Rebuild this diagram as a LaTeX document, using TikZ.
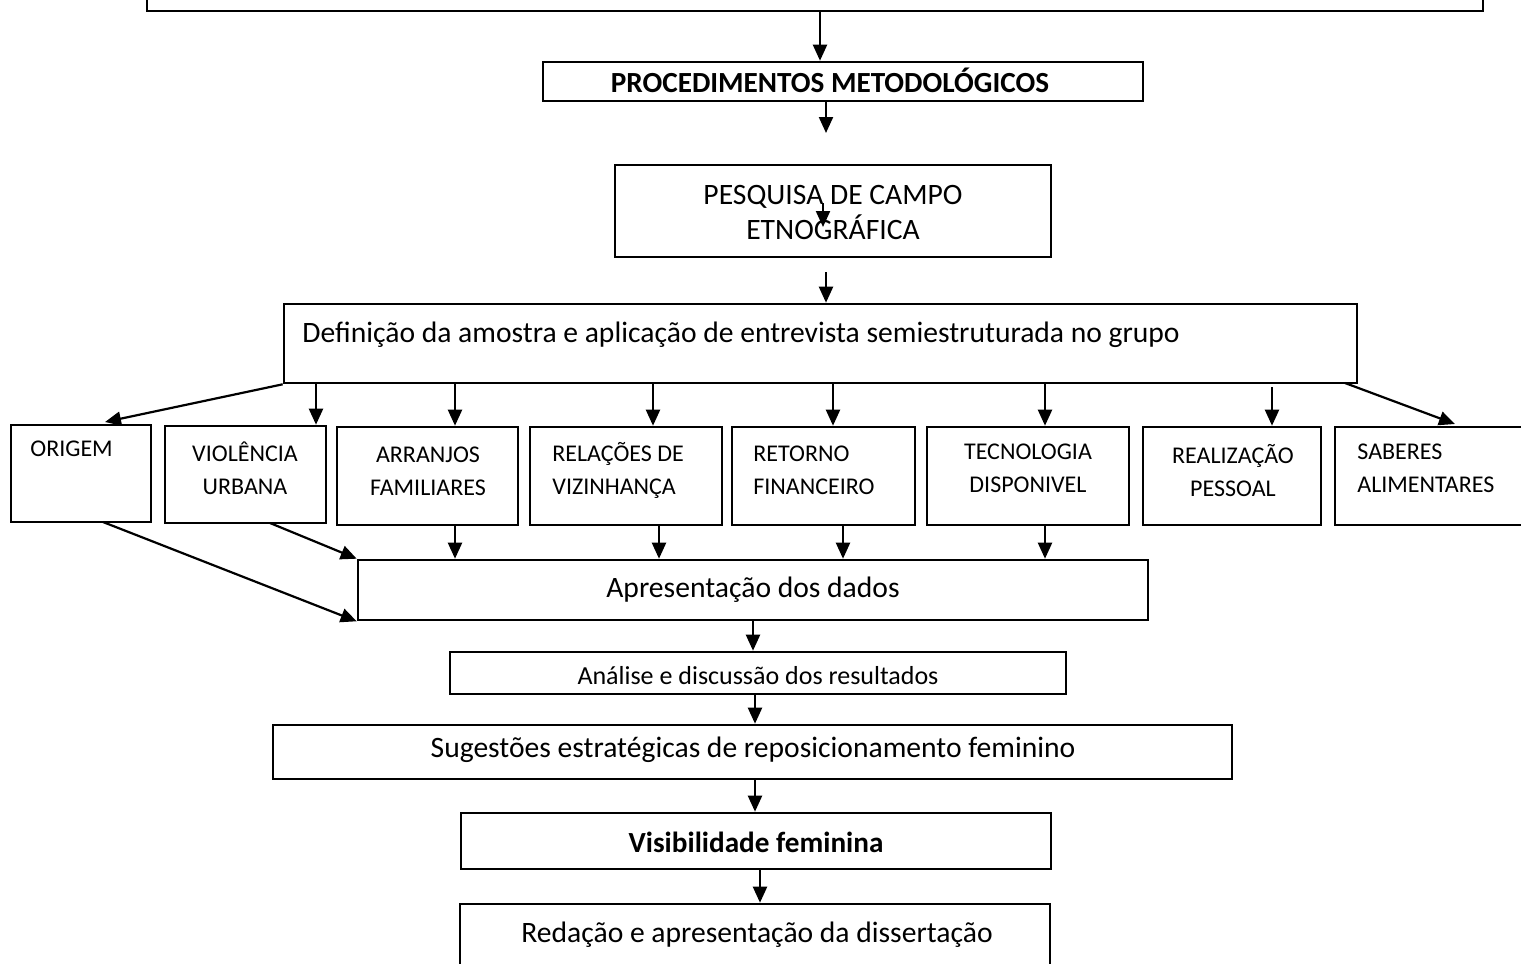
\documentclass[tikz,border=0pt]{standalone}
\usepackage{fontspec}
\setmainfont{Carlito}
\usetikzlibrary{arrows.meta,fit}
\begin{document}
\begin{tikzpicture}[x=0.5pt,y=-0.5pt,
  box/.style={draw, line width=1.3pt, inner sep=0pt},
  arr/.style={-{Triangle[length=8pt,width=7pt]}, line width=1.1pt},
  big/.style={font=\fontsize{14.8}{17.5}\selectfont, inner sep=0pt, align=center},
  bigb/.style={font=\bfseries\fontsize{14.6}{17.5}\selectfont, inner sep=0pt},
  mid/.style={font=\fontsize{13}{14}\selectfont, inner sep=0pt},
  lab/.style={font=\fontsize{12}{16.5}\selectfont, inner sep=0pt, align=center},
  labl/.style={font=\fontsize{12}{16.5}\selectfont, inner sep=0pt, align=left, anchor=west}]
\useasboundingbox (0,0) rectangle (1521,964);
\clip (0,0) rectangle (1521,964);

% boxes
\node[box, fit={(147,-40) (1483,11)}] (top) {};
\node[box, fit={(543,62) (1143,101)}] (proc) {};
\node[box, fit={(615,165) (1051,257)}] (pesq) {};
\node[box, fit={(284,304) (1357,383)}] (def) {};
\node[box, fit={(11,425) (151,522)}] (orig) {};
\node[box, fit={(165,426) (326,523)}] (viol) {};
\node[box, fit={(337,427) (518,525)}] (arra) {};
\node[box, fit={(530,427) (722,525)}] (rela) {};
\node[box, fit={(732,427) (915,525)}] (reto) {};
\node[box, fit={(927,427) (1129,525)}] (tecn) {};
\node[box, fit={(1143,427) (1321,525)}] (real) {};
\node[box, fit={(1335,427) (1540,525)}] (sabe) {};
\node[box, fit={(358,560) (1148,620)}] (apre) {};
\node[box, fit={(450,652) (1066,694)}] (anal) {};
\node[box, fit={(273,725) (1232,779)}] (suge) {};
\node[box, fit={(461,813) (1051,869)}] (visi) {};
\node[box, fit={(460,904) (1050,990)}] (reda) {};

% texts
\node[bigb] (tproc) at (830,80) {PROCEDIMENTOS METODOLÓGICOS};
\node[big] (tpesq) at (833,212) {PESQUISA DE CAMPO\\ETNOGRÁFICA};
\node[big, anchor=west] (tdef) at (302,335) {Definição da amostra e aplicação de entrevista semiestruturada no grupo};
\node[labl] (torig) at (30,449) {ORIGEM};
\node[lab] (tviol) at (245,468) {VIOLÊNCIA\\URBANA};
\node[lab] (tarra) at (428,471) {ARRANJOS\\FAMILIARES};
\node[labl] (trela) at (552,470) {RELAÇÕES DE\\VIZINHANÇA};
\node[labl] (treto) at (753,470) {RETORNO\\FINANCEIRO};
\node[lab] (ttecn) at (1028,468) {TECNOLOGIA\\DISPONIVEL};
\node[lab] (treal) at (1233,471) {REALIZAÇÃO\\PESSOAL};
\node[labl] (tsabe) at (1357,468) {SABERES\\ALIMENTARES};
\node[big] (tapre) at (753,590) {Apresentação dos dados};
\node[mid] (tanal) at (758,676) {Análise e discussão dos resultados};
\node[big] (tsuge) at (753,750) {Sugestões estratégicas de reposicionamento feminino};
\node[bigb] (tvisi) at (756,842) {Visibilidade feminina};
\node[big] (treda) at (757,935) {Redação e apresentação da dissertação};

% helper coordinates
\coordinate (c820) at (820,0);
\coordinate (c826) at (826,0);
\coordinate (p1) at (826,133);
\coordinate (p2a) at (823,203);
\coordinate (p2b) at (823,227);
\coordinate (p3) at (826,272);
\coordinate (d1) at (105,422);
\coordinate (c316) at (316,0);
\coordinate (c455) at (455,0);
\coordinate (c653) at (653,0);
\coordinate (c659) at (659,0);
\coordinate (c833) at (833,0);
\coordinate (c843) at (843,0);
\coordinate (c1045) at (1045,0);
\coordinate (r1) at (1272,387);
\coordinate (dr0) at (1345,383);
\coordinate (dr1) at (1455,424);
\coordinate (v0) at (270,523);
\coordinate (o0) at (103,522);
\coordinate (c753) at (753,0);
\coordinate (c755) at (755,0);
\coordinate (c760) at (760,0);

% connectors
\draw[arr] (c820 |- top.south) -- (c820 |- proc.north);
\draw[arr] (c826 |- proc.south) -- (p1);
\draw[arr] (p2a) -- (p2b);
\draw[arr] (p3) -- (c826 |- def.north);
\draw[arr] (def.south west) -- (d1);
\draw[arr] (c316 |- def.south) -- (c316 |- viol.north);
\draw[arr] (c455 |- def.south) -- (c455 |- arra.north);
\draw[arr] (c653 |- def.south) -- (c653 |- rela.north);
\draw[arr] (c833 |- def.south) -- (c833 |- reto.north);
\draw[arr] (c1045 |- def.south) -- (c1045 |- tecn.north);
\draw[arr] (r1) -- (r1 |- real.north);
\draw[arr] (dr0) -- (dr1);
\draw[arr] (c455 |- arra.south) -- (c455 |- apre.north);
\draw[arr] (c659 |- rela.south) -- (c659 |- apre.north);
\draw[arr] (c843 |- reto.south) -- (c843 |- apre.north);
\draw[arr] (c1045 |- tecn.south) -- (c1045 |- apre.north);
\draw[arr] (v0) -- (apre.north west);
\draw[arr] (o0) -- (apre.south west);
\draw[arr] (c753 |- apre.south) -- (c753 |- anal.north);
\draw[arr] (c755 |- anal.south) -- (c755 |- suge.north);
\draw[arr] (c755 |- suge.south) -- (c755 |- visi.north);
\draw[arr] (c760 |- visi.south) -- (c760 |- reda.north);
\end{tikzpicture}
\end{document}
